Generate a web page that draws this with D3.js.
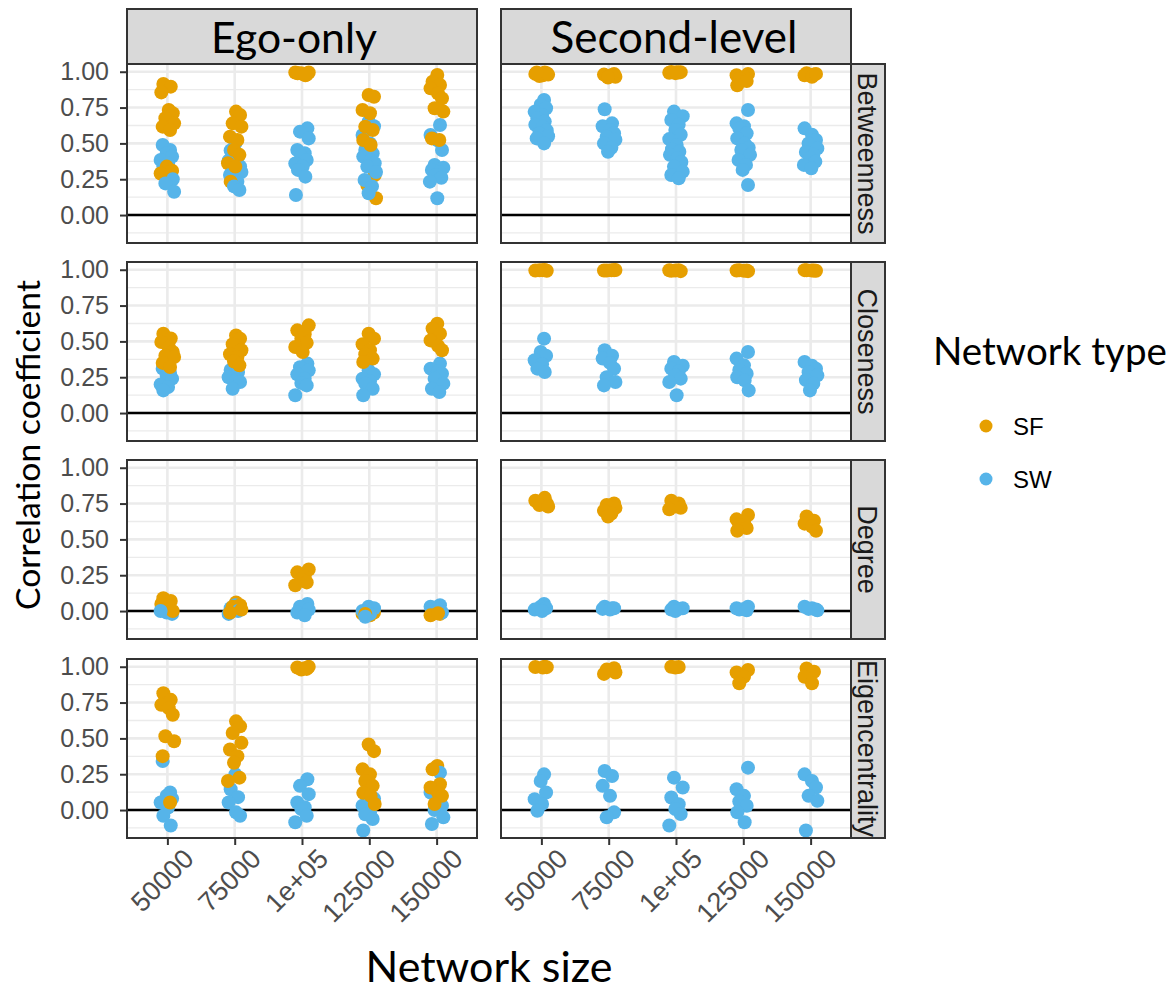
<!DOCTYPE html>
<html><head><meta charset="utf-8">
<script src="https://cdn.jsdelivr.net/npm/d3@7"></script>
<style>body{margin:0;background:#fff}</style>
</head><body><svg id="chart" width="1173" height="994"></svg>
<script>
// Facet layout: columns = neighbourhood scope, rows = centrality measure
const columns = ["Ego-only", "Second-level"];
const measures = ["Betweenness", "Closeness", "Degree", "Eigencentrality"];
const sizes = ["50000", "75000", "1e+05", "125000", "150000"];
const types = ["SF", "SW"];
const yTicks = [0, 0.25, 0.5, 0.75, 1];
const yMinor = [-0.125, 0.125, 0.375, 0.625, 0.875];
// Horizontal jitter of each run, as a fraction of the category step
const jitter = [-0.06, 0.05, -0.09, 0.02, 0.08, -0.03, 0.1, -0.07, 0.04, -0.01, 0.07, -0.1, 0.01];

// Correlation per run, one list per network size
const egoBetweennessSF = [
  [0.915, 0.896, 0.856, 0.733, 0.71, 0.675, 0.64, 0.617, 0.593, 0.338, 0.31, 0.29],
  [0.722, 0.698, 0.64, 0.617, 0.547, 0.524, 0.454, 0.42, 0.361, 0.338, 0.233],
  [0.995, 0.99, 0.985, 0.99, 0.98, 0.995, 0.985, 0.99, 0.975],
  [0.838, 0.826, 0.733, 0.71, 0.617, 0.593, 0.524, 0.489, 0.28, 0.21, 0.117],
  [0.977, 0.93, 0.907, 0.884, 0.849, 0.814, 0.745, 0.722, 0.535, 0.524]
];
const egoBetweennessSW = [
  [0.489, 0.454, 0.43, 0.408, 0.384, 0.36, 0.338, 0.31, 0.291, 0.268, 0.25, 0.221, 0.163],
  [0.5, 0.45, 0.408, 0.38, 0.361, 0.34, 0.315, 0.3, 0.28, 0.233, 0.2, 0.175],
  [0.605, 0.582, 0.535, 0.454, 0.431, 0.41, 0.384, 0.36, 0.338, 0.315, 0.268, 0.14],
  [0.652, 0.62, 0.559, 0.5, 0.454, 0.43, 0.408, 0.38, 0.361, 0.338, 0.3, 0.245, 0.2, 0.152],
  [0.628, 0.559, 0.52, 0.454, 0.349, 0.33, 0.315, 0.3, 0.28, 0.26, 0.233, 0.117]
];
const secondBetweennessSF = [
  [0.995, 0.985, 0.975, 0.99, 0.97, 0.98, 0.995],
  [0.985, 0.97, 0.965, 0.98, 0.975, 0.96],
  [0.998, 0.995, 0.99, 0.997, 0.993, 0.996],
  [0.985, 0.975, 0.96, 0.95, 0.935, 0.905],
  [0.99, 0.98, 0.975, 0.965, 0.985]
];
const secondBetweennessSW = [
  [0.803, 0.77, 0.745, 0.72, 0.698, 0.675, 0.652, 0.63, 0.617, 0.59, 0.57, 0.55, 0.535, 0.5],
  [0.738, 0.64, 0.62, 0.593, 0.57, 0.547, 0.525, 0.5, 0.47, 0.442],
  [0.722, 0.69, 0.663, 0.63, 0.593, 0.56, 0.53, 0.489, 0.46, 0.442, 0.42, 0.396, 0.37, 0.338, 0.303, 0.28, 0.256],
  [0.733, 0.64, 0.62, 0.605, 0.57, 0.535, 0.5, 0.47, 0.454, 0.42, 0.384, 0.35, 0.315, 0.21],
  [0.605, 0.56, 0.524, 0.5, 0.465, 0.44, 0.42, 0.4, 0.373, 0.35, 0.326]
];
const egoClosenessSF = [
  [0.554, 0.52, 0.496, 0.46, 0.426, 0.4, 0.391, 0.35, 0.321],
  [0.542, 0.519, 0.48, 0.438, 0.41, 0.391, 0.36, 0.333],
  [0.612, 0.577, 0.55, 0.519, 0.49, 0.461, 0.426],
  [0.554, 0.519, 0.48, 0.438, 0.41, 0.38, 0.356],
  [0.624, 0.59, 0.554, 0.507, 0.47, 0.438]
];
const egoClosenessSW = [
  [0.31, 0.28, 0.26, 0.24, 0.2, 0.182, 0.158],
  [0.345, 0.3, 0.286, 0.25, 0.23, 0.217, 0.17],
  [0.345, 0.32, 0.298, 0.27, 0.24, 0.21, 0.193, 0.124],
  [0.298, 0.27, 0.24, 0.22, 0.205, 0.17, 0.124],
  [0.345, 0.31, 0.29, 0.275, 0.24, 0.205, 0.17, 0.147]
];
const secondClosenessSF = [
  [0.998, 0.995, 0.997, 0.993, 0.996],
  [0.997, 0.994, 0.998, 0.995, 0.996],
  [0.993, 0.997, 0.995, 0.99, 0.996],
  [0.99, 0.995, 0.993, 0.997, 0.994],
  [0.996, 0.994, 0.997, 0.995, 0.993]
];
const secondClosenessSW = [
  [0.519, 0.426, 0.4, 0.368, 0.34, 0.31, 0.286],
  [0.438, 0.4, 0.38, 0.35, 0.31, 0.25, 0.217, 0.193],
  [0.356, 0.33, 0.31, 0.29, 0.263, 0.24, 0.217, 0.124],
  [0.426, 0.38, 0.333, 0.3, 0.275, 0.25, 0.228, 0.158],
  [0.356, 0.33, 0.31, 0.285, 0.263, 0.23, 0.205, 0.158]
];
const egoDegreeSF = [
  [0.09, 0.07, 0.05, 0.03, 0.0],
  [0.06, 0.04, 0.03, 0.01, -0.01],
  [0.29, 0.27, 0.24, 0.22, 0.2, 0.18],
  [0.0, -0.01, -0.02, -0.03, -0.02],
  [0.0, -0.01, -0.02, -0.03, -0.015]
];
const egoDegreeSW = [
  [0.03, 0.01, -0.01, -0.02, 0.0],
  [0.04, 0.02, 0.0, -0.02],
  [0.05, 0.03, 0.01, -0.01, -0.03],
  [0.03, 0.02, 0.0, -0.02, -0.04],
  [0.04, 0.03, 0.01, -0.01]
];
const secondDegreeSF = [
  [0.79, 0.77, 0.76, 0.75, 0.74, 0.73],
  [0.75, 0.74, 0.72, 0.7, 0.68, 0.66],
  [0.77, 0.75, 0.73, 0.72, 0.71],
  [0.67, 0.64, 0.62, 0.6, 0.58, 0.56],
  [0.66, 0.63, 0.61, 0.59, 0.56]
];
const secondDegreeSW = [
  [0.05, 0.03, 0.02, 0.01, 0.0],
  [0.03, 0.02, 0.015, 0.01, 0.02],
  [0.03, 0.02, 0.01, 0.015, 0.0],
  [0.03, 0.02, 0.015, 0.01, 0.005],
  [0.03, 0.02, 0.01, 0.015, 0.005]
];
const egoEigencentralitySF = [
  [0.815, 0.769, 0.734, 0.711, 0.665, 0.515, 0.48, 0.376, 0.053],
  [0.619, 0.584, 0.538, 0.469, 0.423, 0.376, 0.33, 0.226, 0.203],
  [1.0, 0.995, 0.99, 0.98, 0.985],
  [0.457, 0.411, 0.284, 0.249, 0.203, 0.169, 0.12, 0.099, 0.042],
  [0.307, 0.284, 0.18, 0.157, 0.12, 0.099, 0.042]
];
const egoEigencentralitySW = [
  [0.342, 0.122, 0.1, 0.08, 0.053, 0.018, -0.04, -0.108],
  [0.249, 0.145, 0.09, 0.053, -0.016, -0.04],
  [0.215, 0.169, 0.111, 0.053, 0.02, 0.007, -0.04, -0.085],
  [0.145, 0.08, 0.03, -0.016, -0.03, -0.062, -0.143],
  [0.261, 0.122, 0.05, 0.03, 0.0, -0.051, -0.097]
];
const secondEigencentralitySF = [
  [1.0, 0.998, 0.995, 0.997],
  [0.99, 0.98, 0.96, 0.95],
  [1.0, 0.998, 0.995],
  [0.977, 0.96, 0.931, 0.885],
  [0.988, 0.965, 0.93, 0.885]
];
const secondEigencentralitySW = [
  [0.249, 0.203, 0.122, 0.076, 0.042, -0.005],
  [0.272, 0.238, 0.169, 0.099, -0.016, -0.051],
  [0.226, 0.157, 0.088, 0.04, 0.007, -0.028, -0.108],
  [0.296, 0.145, 0.099, 0.06, 0.03, -0.016, -0.085],
  [0.249, 0.203, 0.157, 0.099, 0.065, -0.143]
];

const panelData = {
  "Ego-only": {
    Betweenness: [egoBetweennessSF, egoBetweennessSW],
    Closeness: [egoClosenessSF, egoClosenessSW],
    Degree: [egoDegreeSF, egoDegreeSW],
    Eigencentrality: [egoEigencentralitySF, egoEigencentralitySW]
  },
  "Second-level": {
    Betweenness: [secondBetweennessSF, secondBetweennessSW],
    Closeness: [secondClosenessSF, secondClosenessSW],
    Degree: [secondDegreeSF, secondDegreeSW],
    Eigencentrality: [secondEigencentralitySF, secondEigencentralitySW]
  }
};

const color = d3.scaleOrdinal().domain(types).range(["#E69F00", "#56B4E9"]);

const svg = d3.select("#chart");
const panelLeft = [127, 501];
const panelW = 350;
const rowTop = [64, 262, 460, 659];
const panelH = 179;
const stripTop = 9;
const stripRightW = 34;
const R = 7;

const x = d3.scalePoint().domain(sizes).range([0, panelW]).padding(0.6);
const step = x.step();
const y = d3.scaleLinear().domain([-0.195, 1.054]).range([panelH, 0]);

const tickFont = "'Liberation Sans', Arial, sans-serif";
const titleFont = "Lato, 'Open Sans', sans-serif";

function fitWidth(sel, target) {
  const w = sel.node().getComputedTextLength();
  const fs = parseFloat(sel.attr("font-size"));
  sel.attr("font-size", fs * target / w);
}

// Column strips
columns.forEach((col, ci) => {
  svg.append("rect")
    .attr("x", panelLeft[ci]).attr("y", stripTop)
    .attr("width", panelW).attr("height", rowTop[0] - stripTop)
    .attr("fill", "#D9D9D9").attr("stroke", "#333333").attr("stroke-width", 2);
});
const colCentre = [294, 674];
const colWidth = [166, 247];
columns.forEach((col, ci) => {
  const t = svg.append("text")
    .attr("x", colCentre[ci]).attr("y", 53)
    .attr("text-anchor", "middle")
    .attr("font-family", titleFont).attr("font-size", 40)
    .attr("fill", "#000").text(col);
  fitWidth(t, colWidth[ci]);
});

measures.forEach((m, ri) => {
  const top = rowTop[ri];
  // Row strip on the right
  svg.append("rect")
    .attr("x", panelLeft[1] + panelW).attr("y", top)
    .attr("width", stripRightW).attr("height", panelH)
    .attr("fill", "#D9D9D9").attr("stroke", "#333333").attr("stroke-width", 2);
  const clipId = "clip-strip-" + ri;
  svg.append("clipPath").attr("id", clipId)
    .append("rect")
    .attr("x", panelLeft[1] + panelW).attr("y", top)
    .attr("width", stripRightW + 4).attr("height", panelH);
  svg.append("g").attr("clip-path", `url(#${clipId})`)
    .append("text")
    .attr("transform", `translate(${panelLeft[1] + panelW + stripRightW / 2 - 1},${top + panelH / 2}) rotate(90)`)
    .attr("text-anchor", "middle").attr("dy", "0.35em")
    .attr("font-family", tickFont).attr("font-size", 27)
    .attr("fill", "#1A1A1A").text(m);

  columns.forEach((col, ci) => {
    const g = svg.append("g").attr("transform", `translate(${panelLeft[ci]},${top})`);
    g.append("rect").attr("width", panelW).attr("height", panelH).attr("fill", "#fff");
    // grid
    g.selectAll(".minor").data(yMinor).join("line")
      .attr("x1", 0).attr("x2", panelW)
      .attr("y1", d => y(d)).attr("y2", d => y(d))
      .attr("stroke", "#EBEBEB").attr("stroke-width", 1.3);
    g.selectAll(".major").data(yTicks).join("line")
      .attr("x1", 0).attr("x2", panelW)
      .attr("y1", d => y(d)).attr("y2", d => y(d))
      .attr("stroke", "#EBEBEB").attr("stroke-width", 2.6);
    g.selectAll(".vgrid").data(sizes).join("line")
      .attr("x1", d => x(d)).attr("x2", d => x(d))
      .attr("y1", 0).attr("y2", panelH)
      .attr("stroke", "#EBEBEB").attr("stroke-width", 2.6);
    // reference line at zero
    g.append("line").attr("x1", 0).attr("x2", panelW)
      .attr("y1", y(0)).attr("y2", y(0))
      .attr("stroke", "#000").attr("stroke-width", 2.6);
    // points
    const [sf, sw] = panelData[col][m];
    const pts = [];
    sizes.forEach((s, k) => {
      const n = Math.max(sf[k].length, sw[k].length);
      for (let i = 0; i < n; i++) {
        if (i < sf[k].length) pts.push({ s, v: sf[k][i], t: "SF", j: jitter[(i + 3 * k + ci) % jitter.length] });
        if (i < sw[k].length) pts.push({ s, v: sw[k][i], t: "SW", j: jitter[(i + 5 * k + 7 + ci) % jitter.length] });
      }
    });
    g.selectAll("circle").data(pts).join("circle")
      .attr("cx", d => x(d.s) + d.j * step)
      .attr("cy", d => y(d.v))
      .attr("r", R)
      .attr("fill", d => color(d.t));
    g.append("rect").attr("width", panelW).attr("height", panelH)
      .attr("fill", "none").attr("stroke", "#333333").attr("stroke-width", 2);

    // y axis on left column
    if (ci === 0) {
      const ya = svg.append("g").attr("transform", `translate(${panelLeft[0]},${top})`)
        .call(d3.axisLeft(y).tickValues(yTicks).tickFormat(d3.format(".2f")).tickSize(7).tickPadding(11));
      ya.select(".domain").remove();
      ya.selectAll(".tick line").attr("stroke", "#333333").attr("stroke-width", 2);
      ya.selectAll(".tick text").attr("font-family", tickFont).attr("font-size", 25).attr("fill", "#4D4D4D");
    }
    // x axis on bottom row
    if (ri === measures.length - 1) {
      const xa = svg.append("g").attr("transform", `translate(${panelLeft[ci]},${top + panelH})`)
        .call(d3.axisBottom(x).tickSize(7).tickPadding(4));
      xa.select(".domain").remove();
      xa.selectAll(".tick line").attr("stroke", "#333333").attr("stroke-width", 2);
      xa.selectAll(".tick text")
        .attr("font-family", tickFont).attr("font-size", 27).attr("fill", "#4D4D4D")
        .attr("text-anchor", "end")
        .attr("transform", "translate(14,9) rotate(-45)")
        .attr("dy", "0.7em").attr("y", 0).attr("x", 0);
    }
  });
});

// Axis titles
const yTitle = svg.append("text")
  .attr("transform", "translate(40,445) rotate(-90)")
  .attr("text-anchor", "middle")
  .attr("font-family", titleFont).attr("font-size", 30)
  .attr("fill", "#000").text("Correlation coefficient");
fitWidth(yTitle, 330);
const xTitle = svg.append("text")
  .attr("x", 489).attr("y", 982)
  .attr("text-anchor", "middle")
  .attr("font-family", titleFont).attr("font-size", 36)
  .attr("fill", "#000").text("Network size");
fitWidth(xTitle, 247);

// Legend
const lg = svg.append("g");
const lt = lg.append("text").attr("x", 933).attr("y", 365)
  .attr("font-family", titleFont).attr("font-size", 32)
  .attr("fill", "#000").text("Network type");
fitWidth(lt, 234);
const legendY = [426, 479];
types.forEach((t, i) => {
  lg.append("circle").attr("cx", 986).attr("cy", legendY[i]).attr("r", 6.5).attr("fill", color(t));
  lg.append("text").attr("x", 1013).attr("y", legendY[i]).attr("dy", "0.36em")
    .attr("font-family", tickFont).attr("font-size", 24).attr("fill", "#000").text(t);
});
</script></body></html>
